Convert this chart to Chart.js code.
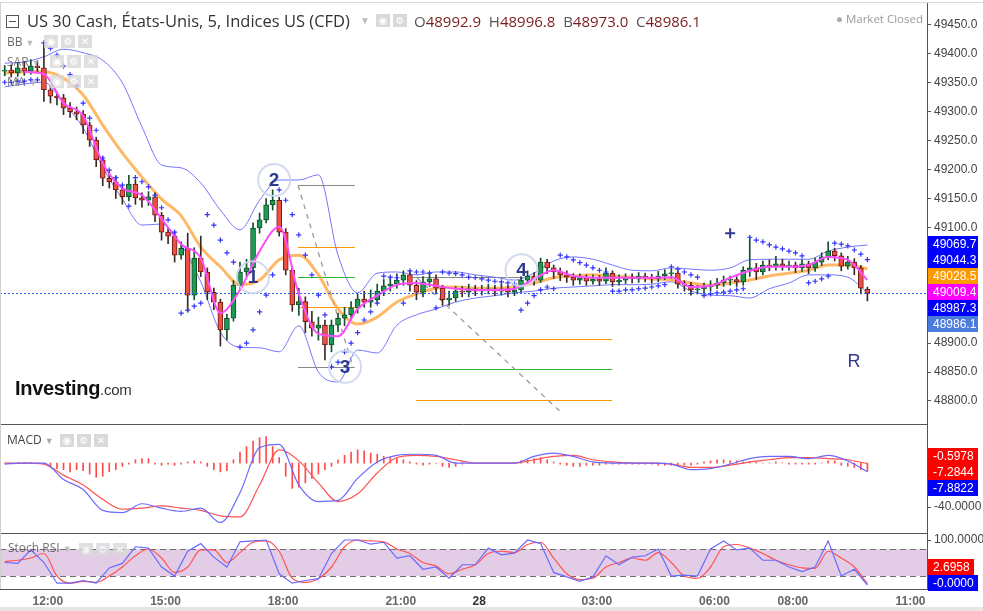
<!DOCTYPE html>
<html><head><meta charset="utf-8">
<script src="https://cdn.jsdelivr.net/npm/chart.js@4.4.1/dist/chart.umd.min.js"></script>
<style>
html,body{margin:0;padding:0;background:#fff;}
#wrap{position:relative;width:983px;height:611px;overflow:hidden;background:#fff;font-family:"Open Sans",sans-serif;}
canvas{position:absolute;left:0;}
.ov{position:absolute;white-space:nowrap;pointer-events:none;}
.ic{position:absolute;width:14px;height:13px;background:#d9d9d9;color:#fff;font:bold 10px "DejaVu Sans";text-align:center;line-height:13px;}
.lbl{position:absolute;font:12px "Open Sans";color:#444;line-height:14px;}
.car{color:#aaa;font-size:9px;margin-left:3px;}
</style></head><body>
<div id="wrap">
<canvas id="main" width="983" height="424" style="top:0"></canvas>
<canvas id="macd" width="983" height="109" style="top:424px"></canvas>
<canvas id="stoch" width="983" height="78" style="top:533px"></canvas>

<div class="ov" style="left:0;top:2px;width:983px;height:1px;background:#d8d8d8"></div>
<div class="ov" style="left:0;top:2px;width:1px;height:587px;background:#d0d0d0"></div>
<div class="ov" style="left:0;top:607px;width:983px;height:4px;background:#e6e6e6"></div>

<!-- header -->
<div class="ov" style="left:6px;top:15px;width:11px;height:11px;border:1px solid #555"></div>
<div class="ov" style="left:9px;top:21px;width:7px;height:1px;background:#555"></div>
<div class="ov" style="left:27px;top:10px;font-size:16.5px;line-height:22px;color:#333">US 30 Cash, États-Unis, 5, Indices US (CFD)</div>
<div class="ov" style="left:360px;top:13px;font-size:10px;color:#bbb">▼</div>
<div class="ic" style="left:376px;top:14px">◉</div>
<div class="ic" style="left:393px;top:14px">⚙</div>
<div class="ov" style="left:414px;top:11px;font-size:15px;line-height:20px;color:#555">O<span style="color:#7a1c1c">48992.9</span>&nbsp; H<span style="color:#7a1c1c">48996.8</span>&nbsp; B<span style="color:#7a1c1c">48973.0</span>&nbsp; C<span style="color:#7a1c1c">48986.1</span></div>
<div class="ov" style="left:836px;top:11px;font-size:11.5px;line-height:16px;color:#999"><span style="color:#aaa">●</span> Market Closed</div>

<!-- indicator legends -->
<div class="lbl" style="left:7px;top:35px;opacity:.8">BB<span class="car">▼</span></div>
<div class="ic" style="left:44px;top:35px;opacity:.85">◉</div><div class="ic" style="left:61px;top:35px;opacity:.85">⚙</div><div class="ic" style="left:78px;top:35px;opacity:.85">✕</div>
<div class="lbl" style="left:7px;top:55px;opacity:.7">SAR<span class="car">▼</span></div>
<div class="ic" style="left:50px;top:55px;opacity:.8">◉</div><div class="ic" style="left:67px;top:55px;opacity:.8">⚙</div><div class="ic" style="left:84px;top:55px;opacity:.8">✕</div>
<div class="lbl" style="left:7px;top:75px;opacity:.7">MA<span class="car">▼</span></div>
<div class="ic" style="left:50px;top:75px;opacity:.8">◉</div><div class="ic" style="left:67px;top:75px;opacity:.8">⚙</div><div class="ic" style="left:84px;top:75px;opacity:.8">✕</div>

<div class="lbl" style="left:7px;top:433px">MACD<span class="car">▼</span></div>
<div class="ic" style="left:60px;top:434px">◉</div><div class="ic" style="left:77px;top:434px">⚙</div><div class="ic" style="left:94px;top:434px">✕</div>
<div class="lbl" style="left:8px;top:541px;opacity:.75">Stoch RSI<span class="car">▼</span></div>
<div class="ic" style="left:79px;top:543px;opacity:.8">◉</div><div class="ic" style="left:96px;top:543px;opacity:.8">⚙</div><div class="ic" style="left:113px;top:543px;opacity:.8">✕</div>

<div class="ov" style="left:15px;top:377px;font:bold 20px 'Liberation Sans';color:#111;letter-spacing:-0.3px">Investing<span style="font:15px 'Liberation Sans';color:#333">.com</span></div>
</div>

<script>
// ---------- DATA ----------
const tickHours  = [12, 15, 18, 21, 23, 26, 29, 31, 34];
const tickLabels = ['12:00','15:00','18:00','21:00','28','03:00','06:00','08:00','11:00'];

const opens = [49370,49372,49367,49376,49370,49379,49376,49338,49327,49324,
 49306,49300,49296,49277,49251,49217,49185,49179,49165,49153,
 49175,49151,49147,49153,49121,49092,49085,49052,49064,48983,
 49047,49023,48988,48971,48923,48943,49000,49023,49030,49099,
 49113,49139,49147,49092,49026,48966,48972,48937,48926,48931,
 48897,48931,48943,48949,48961,48976,48971,48975,48990,48999,
 49002,49009,49018,49000,48988,49006,49011,48995,48975,48978,
 48990,48988,48994,48990,48992,48994,48990,48994,48988,48992,
 49009,49016,49009,49040,49030,49023,49018,49014,49009,49013,
 49007,49011,49007,49021,49006,49009,49014,49011,49016,49013,
 49011,49016,49020,49021,49002,49000,48992,48994,48997,49000,
 49004,49009,49010,49006,49026,49030,49023,49035,49033,49037,
 49033,49035,49030,49037,49030,49040,49049,49059,49051,49033,
 49040,49030,48992.9];
const closes = [49372,49367,49376,49370,49379,49376,49338,49327,49324,49306,
 49300,49296,49277,49251,49217,49185,49179,49165,49153,49175,
 49151,49147,49153,49121,49092,49085,49052,49064,48983,49047,
 49023,48988,48971,48923,48943,49000,49023,49030,49099,49113,
 49139,49147,49092,49026,48966,48972,48937,48926,48931,48897,
 48931,48943,48949,48961,48976,48971,48975,48990,48999,49002,
 49009,49018,49000,48988,49006,49011,48995,48975,48978,48990,
 48988,48994,48990,48992,48994,48990,48994,48988,48992,49009,
 49016,49009,49040,49030,49023,49018,49014,49009,49013,49007,
 49011,49007,49021,49006,49009,49014,49011,49016,49013,49011,
 49016,49020,49021,49002,49000,48992,48994,48997,49000,49004,
 49009,49010,49006,49026,49030,49023,49035,49033,49037,49033,
 49035,49030,49037,49030,49040,49049,49059,49051,49033,49040,
 49030,48995,48986.1];
const highs = [49380,49381,49384,49386,49390,49388,49420,49345,49334,49330,
 49316,49308,49302,49282,49256,49222,49195,49188,49172,49190,
 49182,49160,49162,49160,49126,49100,49092,49075,49090,49065,
 49085,49030,48995,48976,48950,49008,49040,49045,49108,49125,
 49150,49165,49152,49098,49032,48995,48980,48955,48945,48940,
 48940,48952,48962,48972,48985,48990,48992,49002,49010,49015,
 49020,49025,49024,49008,49015,49022,49018,49000,48990,48998,
 48998,49002,49000,49000,49002,49000,49003,49000,49000,49015,
 49025,49022,49047,49045,49035,49030,49025,49020,49020,49018,
 49018,49017,49030,49025,49018,49020,49020,49022,49021,49019,
 49024,49027,49028,49025,49008,49005,49000,49004,49008,49012,
 49016,49016,49015,49032,49083,49038,49042,49044,49050,49045,
 49042,49040,49044,49042,49047,49056,49075,49064,49056,49050,
 49046,49034,48996.8];
const lows = [49362,49360,49361,49363,49365,49368,49318,49315,49312,49295,
 49290,49286,49262,49240,49205,49172,49168,49150,49140,49146,
 49140,49135,49138,49110,49078,49072,49040,49045,48955,48975,
 49015,48975,48958,48895,48905,48938,48995,49015,49025,49090,
 49108,49130,49085,49018,48955,48948,48918,48912,48905,48871,
 48885,48920,48930,48940,48952,48962,48962,48968,48982,48990,
 48995,49000,48990,48975,48980,48998,48985,48965,48965,48972,
 48980,48980,48982,48983,48985,48982,48983,48980,48982,48988,
 49003,49000,49005,49020,49012,49008,49005,49000,49002,49000,
 49002,49000,49003,48998,49000,49003,49004,49005,49006,49004,
 49006,49010,49012,48995,48990,48983,48985,48987,48990,48994,
 48998,49000,48998,49000,49015,49010,49018,49025,49026,49026,
 49026,49022,49024,49020,49024,49034,49044,49042,49025,49028,
 49018,48985,48973];
const sar = [49351,49351,49353,49353,49355,49355,49419,49410,49398,49379,
 49364,49345,49315,49289,49268,49220,49199,49186,49173,49137,
 49186,49179,49170,49156,49134,49113,49092,48952,48957,48964,
 48969,49122,49104,49078,49056,49040,48893,48900,48923,48954,
 48983,49018,49165,49147,49122,49087,49052,49018,48983,48949,
 48859,48867,48885,48900,48918,48940,48954,48969,49016,49014,
 49013,48969,49025,49023,49023,49021,48961,49023,49021,49020,
 49018,49014,49013,49011,49009,49007,49006,49004,49002,48957,
 48969,48982,48992,48997,48994,49052,49049,49044,49039,49035,
 49030,49026,49023,48990,48990,48992,48992,48994,48995,48997,
 48999,49001,49032,49028,49023,49018,49014,48982,48985,48987,
 48988,48990,48992,48994,49083,49078,49075,49070,49066,49063,
 49059,49056,49051,49004,49007,49011,49016,49073,49071,49068,
 49061,49054,49044.3];
// lines sampled every 3rd bar
const maFast = [null,49369,49365,49315,49293,49211,49168,49156,49115,49071,
 49047,48952,48992,49059,49101,48985,48916,48912,48959,48982,
 49001,49004,48999,48994,48992,48992,48994,49011,49026,49016,
 49013,49013,49013,49013,49014,48997,48999,49013,49025,49032,
 49032,49035,49049,49044,49009.4];
const bbMid = [49367,49369,49369,49358,49329,49277,49229,49187,49149,49120,
 49066,49032,49001,49009,49044,49052,49018,48959,48933,48945,
 48971,48985,48995,48997,48995,48995,48997,49004,49013,49016,
 49018,49016,49014,49011,49009,49004,49000,49004,49009,49016,
 49021,49026,49035,49035,49028.5];
const bbUpper = [49384,49386,49395,49408,49402,49389,49350,49274,49208,49203,
 49177,49130,49096,49147,49182,49182,49191,49052,48987,49021,
 49023,49018,49023,49023,49018,49014,49009,49021,49042,49049,
 49045,49035,49026,49025,49030,49028,49026,49030,49044,49045,
 49045,49045,49059,49066,49069.7];
const bbLower = [49343,49348,49351,49315,49272,49204,49149,49104,49106,49070,
 49006,48919,48893,48892,48885,48930,48850,48833,48888,48883,
 48931,48949,48959,48971,48978,48982,48987,48990,48995,48997,
 48999,49001,49001,49002,49006,48990,48983,48982,48978,48994,
 49004,49018,49018,49014,48987.3];
const macdLine = [-1,0,0,-15,-24,-43,-45,-37,-41,-44,
 -41,-54,-27,14,17,-20,-35,-34,-14,1,
 7,8,7,0,0,0,0,6,9,6,
 1,0,0,0,-1,-6,-5,-1,4,6,
 6,4,7,2,-7.8822];
const macdSignal = [0,0,-1,-11,-20,-33,-42,-41,-39,-41,
 -43,-48,-49,-20,12,2,-18,-35,-28,-9,
 5,7,6,3,0,0,0,3,6,7,
 3,1,0,0,-1,-4,-4,-2,1,3,
 5,5,4,3,-0.5978];
const macdHist = [0,0,0.5,0.5,0.5,0,0,-3,-5,-6,
 -8,-6,-7,-10,-13,-12,-8,-6,-3,-1,
 3,4,4,-1,-2,-1,-2,-1,1,2,
 1,-3,-6,-8,-7,3,10,15,20,23,
 24,15,5,-12,-23,-22,-18,-14,-10,-6,
 -3,3,7,10,12,11,9,8,6,5,
 4,3,1,-1,-2,-1,0,-3,-4,-3,
 -1,0,0,0,0,0,0,0,0,2,
 3,4,5,3,1,-1,-2,-3,-3,-2,
 -2,-2,-1,-1,-1,-1,-1,-1,-1,-1,
 -2,-2,-2,-2,-2,-2,-1,1,2,3,
 3,2,2,1,1,1,0,0,1,0,
 -1,-1,-1,-1,-1,0,2,2,-2,-3,
 -4,-6,-7.2844];
// stoch sampled every 2nd bar
const stochK = [50,48,78,50,4,4,10,4,38,48,
 85,82,40,20,75,92,62,40,96,98,
 100,25,4,10,14,70,100,100,91,95,
 60,65,35,40,15,45,45,82,67,71,
 100,92,28,18,8,18,65,45,62,65,
 80,20,22,20,80,98,78,82,55,55,
 40,30,40,98,20,35,-0.00001];
const stochD = [52,55,60,70,20,4,8,6,20,40,
 65,80,60,28,40,78,78,50,72,95,
 98,75,15,6,14,40,85,100,98,96,
 80,70,50,42,25,35,45,70,75,72,
 90,95,60,25,12,15,40,50,60,55,
 72,50,20,15,40,85,90,82,70,55,
 45,38,37,75,60,40,2.6958];

// drawings (time in session hours, price)
const waveMarks = [{n:'1',h:17.23,p:49014},{n:'2',h:17.77,p:49182},{n:'3',h:19.58,p:48859},{n:'4',h:24.08,p:49026}];
const fibA = {h0:18.38, h1:19.83, levels:[49173,49066,49014,48962,48859]};
const fibAColors = ['#8a8a8a','#ff9800','#2db82d','#ff9800','#8a8a8a'];
const fibBTop = {h0:21.31, h1:24.12, p:49014};
const fibB = {h0:21.39, h1:26.39, levels:[48907,48855,48802]};
const fibBColors = ['#ff9800','#2db82d','#ff9800'];
const trendLines = [{h0:18.38,p0:49173,h1:19.78,p1:48859},{h0:21.41,p0:49013,h1:25.11,p1:48779}];
const plusMark = {h:29.40, p:49090};
const rMark = {h:32.56, p:48867};

// ---------- BUILD ----------
const XMIN = 10.78, XMAX = 34.42;
const barHours = closes.map((_, i) => 10.9 + i / 6);
const lineHours = bbMid.map((_, k) => barHours[k * 3]);
const stochHours = stochK.map((_, k) => barHours[k * 2]);
const pts = (arr, hrs) => arr.map((v, k) => ({x: hrs[k], y: v}));

Chart.defaults.font.family = '"Liberation Sans", Arial, sans-serif';
Chart.defaults.font.size = 12;
Chart.defaults.animation = false;

const up = closes.map((c, i) => c >= opens[i]);
const bodyFill = up.map(u => u ? '#1f9a52' : '#ef5046');
const bodyBorder = up.map(u => u ? '#0f4d2a' : '#6b1a14');
const wickCol = up.map(u => u ? '#14502c' : '#3b2a20');

const xHidden = {type:'linear', min:XMIN, max:XMAX, offset:false, display:false};
const yRight = (min, max, extra) => Object.assign({
  type:'linear', position:'right', min, max,
  afterFit: s => { s.width = 56; s.paddingTop = 0; s.paddingBottom = 0; },
  grid: {display:true, drawOnChartArea:false, drawTicks:true, tickLength:4, color:'#555'},
  border: {display:true, color:'#555'},
  ticks: {display:false, includeBounds:false}
}, extra);

// tick labels drawn from the scale's own ticks
function drawYLabels(chart, fmt) {
  const {ctx, chartArea} = chart, ys = chart.scales.y;
  ctx.save();
  ctx.font = '12px "Liberation Sans"'; ctx.fillStyle = '#444';
  ctx.textBaseline = 'middle'; ctx.textAlign = 'left';
  ys.ticks.forEach(t => ctx.fillText(fmt(t.value), chartArea.right + 7, ys.getPixelForValue(t.value)));
  ctx.restore();
}
function drawBoxes(chart, items, dir, offset) {
  const {ctx, chartArea} = chart, ys = chart.scales.y, H = 16;
  let prev = null;
  ctx.save();
  ctx.font = '12px "Liberation Sans"';
  ctx.textBaseline = 'middle'; ctx.textAlign = 'left';
  items.forEach(it => {
    let y = ys.getPixelForValue(it.v);
    if (prev === null) y += offset;
    else y = dir > 0 ? Math.max(y, prev + H) : Math.min(y, prev - H);
    prev = y;
    ctx.fillStyle = it.c;
    ctx.fillRect(chartArea.right + 1, Math.round(y - H / 2), it.w || 50, H);
    ctx.fillStyle = '#fff';
    ctx.fillText(it.t, chartArea.right + 6, y + 0.5);
  });
  ctx.restore();
}
const last = a => a[a.length - 1];

// ---------- MAIN ----------
new Chart(document.getElementById('main'), {
  type: 'bar',
  data: { datasets: [
    {type:'line', label:'SAR', data: pts(sar, barHours), showLine:false, pointStyle:'cross',
     pointRadius:2.6, pointBorderColor:'#3434ff', pointBorderWidth:1.2, order:0},
    {type:'line', label:'MA', data: pts(maFast, lineHours), borderColor:'#ff4cff', borderWidth:2,
     pointRadius:0, cubicInterpolationMode:'monotone', spanGaps:true, order:1},
    {type:'bar', label:'body', data: barHours.map((x, i) => ({x, y:[opens[i], closes[i]]})),
     backgroundColor: bodyFill, borderColor: bodyBorder, borderWidth:1, borderSkipped:false,
     barThickness:5, minBarLength:1, grouped:false, order:2},
    {type:'bar', label:'wick', data: barHours.map((x, i) => ({x, y:[lows[i], highs[i]]})),
     backgroundColor: wickCol, barThickness:1, grouped:false, order:3},
    {type:'line', label:'BBmid', data: pts(bbMid, lineHours), borderColor:'rgba(255,160,50,0.75)', borderWidth:3,
     pointRadius:0, cubicInterpolationMode:'monotone', order:4},
    {type:'line', label:'BBup', data: pts(bbUpper, lineHours), borderColor:'#7474ff', borderWidth:1,
     pointRadius:0, cubicInterpolationMode:'monotone', order:5},
    {type:'line', label:'BBlo', data: pts(bbLower, lineHours), borderColor:'#7474ff', borderWidth:1,
     pointRadius:0, cubicInterpolationMode:'monotone', order:5}
  ]},
  options: {
    responsive:false, animation:false,
    layout:{autoPadding:false, padding:{top:2, left:0, right:0, bottom:0}},
    plugins:{legend:{display:false}, tooltip:{enabled:false}},
    scales:{
      x: xHidden,
      y: yRight(48760.2, 49489.7, {ticks:{display:false, includeBounds:false, stepSize:50}})
    }
  },
  plugins:[{
    id:'mainOverlay',
    beforeDatasetsDraw(chart){
      const {ctx} = chart, X = chart.scales.x, Y = chart.scales.y;
      ctx.save(); ctx.lineWidth = 1;
      fibA.levels.forEach((p, k) => {
        ctx.strokeStyle = fibAColors[k]; ctx.beginPath();
        const y = Math.round(Y.getPixelForValue(p)) + 0.5;
        ctx.moveTo(X.getPixelForValue(fibA.h0), y); ctx.lineTo(X.getPixelForValue(fibA.h1), y); ctx.stroke();
      });
      ctx.strokeStyle = '#8a8a8a'; ctx.beginPath();
      const yt = Math.round(Y.getPixelForValue(fibBTop.p)) + 0.5;
      ctx.moveTo(X.getPixelForValue(fibBTop.h0), yt); ctx.lineTo(X.getPixelForValue(fibBTop.h1), yt); ctx.stroke();
      fibB.levels.forEach((p, k) => {
        ctx.strokeStyle = fibBColors[k]; ctx.beginPath();
        const y = Math.round(Y.getPixelForValue(p)) + 0.5;
        ctx.moveTo(X.getPixelForValue(fibB.h0), y); ctx.lineTo(X.getPixelForValue(fibB.h1), y); ctx.stroke();
      });
      ctx.setLineDash([5,5]); ctx.strokeStyle = '#9a9a9a'; ctx.lineWidth = 1.3;
      trendLines.forEach(t => {
        ctx.beginPath();
        ctx.moveTo(X.getPixelForValue(t.h0), Y.getPixelForValue(t.p0));
        ctx.lineTo(X.getPixelForValue(t.h1), Y.getPixelForValue(t.p1)); ctx.stroke();
      });
      ctx.restore();
    },
    afterDatasetsDraw(chart){
      const {ctx, chartArea:a} = chart, X = chart.scales.x, Y = chart.scales.y;
      ctx.save();
      const yp = Math.round(Y.getPixelForValue(last(closes))) + 0.5;
      ctx.strokeStyle = '#2a5cf0'; ctx.lineWidth = 1; ctx.setLineDash([2,2]);
      ctx.beginPath(); ctx.moveTo(a.left, yp); ctx.lineTo(a.right, yp); ctx.stroke();
      ctx.setLineDash([]);
      waveMarks.forEach(m => {
        const x = X.getPixelForValue(m.h), y = Y.getPixelForValue(m.p);
        ctx.strokeStyle = 'rgba(205,214,236,0.9)'; ctx.lineWidth = 2;
        ctx.beginPath(); ctx.arc(x, y, 16, 0, Math.PI * 2); ctx.stroke();
        ctx.fillStyle = '#2e3a8c'; ctx.font = 'bold 19px "Liberation Sans"';
        ctx.textAlign = 'center'; ctx.textBaseline = 'middle';
        ctx.fillText(m.n, x, y + 1);
      });
      const px = X.getPixelForValue(plusMark.h), py = Y.getPixelForValue(plusMark.p);
      ctx.strokeStyle = '#2e3a8c'; ctx.lineWidth = 2;
      ctx.beginPath(); ctx.moveTo(px - 5, py); ctx.lineTo(px + 5, py); ctx.moveTo(px, py - 5); ctx.lineTo(px, py + 5); ctx.stroke();
      ctx.fillStyle = '#2e3a8c'; ctx.font = '18px "Liberation Sans"';
      ctx.textAlign = 'center'; ctx.textBaseline = 'middle';
      ctx.fillText('R', X.getPixelForValue(rMark.h), Y.getPixelForValue(rMark.p));
      ctx.restore();
    },
    afterDraw(chart){
      drawYLabels(chart, v => Number(v).toFixed(1));
      const items = [
        {v:last(bbUpper), c:'#0000ff'}, {v:last(sar), c:'#0000ff'}, {v:last(bbMid), c:'#ff9900'},
        {v:last(maFast), c:'#ff00ff'}, {v:last(bbLower), c:'#0000ff'}, {v:last(closes), c:'#4b7bdc'}
      ].map(o => Object.assign(o, {t:o.v.toFixed(1)}));
      drawBoxes(chart, items, 1, -1);
    }
  }]
});

// ---------- MACD ----------
new Chart(document.getElementById('macd'), {
  type:'bar',
  data:{ datasets:[
    {type:'line', data: pts(macdLine, lineHours), borderColor:'#6a6aff', borderWidth:1.2, pointRadius:0, cubicInterpolationMode:'monotone', order:0},
    {type:'line', data: pts(macdSignal, lineHours), borderColor:'#ff5252', borderWidth:1.2, pointRadius:0, cubicInterpolationMode:'monotone', order:1},
    {type:'bar', data: barHours.map((x, i) => ({x, y: macdHist[i]})), backgroundColor:'#ff4a4a', barThickness:1, grouped:false, order:2}
  ]},
  options:{
    responsive:false, animation:false,
    layout:{autoPadding:false, padding:0},
    plugins:{legend:{display:false}, tooltip:{enabled:false}},
    scales:{
      x: xHidden,
      y: Object.assign(yRight(-63.6, 35.5), {
        afterBuildTicks: s => { s.ticks = [{value:-40}]; }
      })
    }
  },
  plugins:[{
    id:'macdBoxes',
    afterDraw(chart){
      const {ctx, chartArea:a} = chart;
      ctx.save(); ctx.strokeStyle = '#555'; ctx.lineWidth = 1;
      ctx.beginPath(); ctx.moveTo(0, 0.5); ctx.lineTo(a.right, 0.5); ctx.stroke(); ctx.restore();
      drawYLabels(chart, v => Number(v).toFixed(4));
      drawBoxes(chart, [
        {v:last(macdSignal), c:'#ff0000', t:last(macdSignal).toFixed(4)},
        {v:last(macdHist), c:'#ff0000', t:last(macdHist).toFixed(4)},
        {v:last(macdLine), c:'#0000ff', t:last(macdLine).toFixed(4)}
      ], 1, -8);
    }
  }]
});

// ---------- STOCH RSI ----------
new Chart(document.getElementById('stoch'), {
  type:'line',
  data:{ datasets:[
    {data: pts(stochK, stochHours), borderColor:'#6a6aff', borderWidth:1.2, pointRadius:0, tension:0},
    {data: pts(stochD, stochHours), borderColor:'#ff5252', borderWidth:1.2, pointRadius:0, cubicInterpolationMode:'monotone'}
  ]},
  options:{
    responsive:false, animation:false,
    layout:{autoPadding:false, padding:0},
    plugins:{legend:{display:false}, tooltip:{enabled:false}},
    scales:{
      x:{type:'linear', min:XMIN, max:XMAX, offset:false, position:'bottom',
         afterBuildTicks: s => { s.ticks = tickHours.map(v => ({value:v})); },
         afterFit: s => { s.height = 22; s.paddingLeft = 0; s.paddingRight = 0; },
         grid:{display:false, drawTicks:false},
         border:{display:true, color:'#555'},
         ticks:{autoSkip:false, maxRotation:0, padding:5,
           color: c => (tickLabels[c.index] === '28' ? '#333' : '#666'),
           font:{weight:'bold', size:12},
           callback: (v, i) => tickLabels[i]}},
      y: Object.assign(yRight(-8.9, 115.6), {
        afterBuildTicks: s => { s.ticks = [{value:100}]; }
      })
    }
  },
  plugins:[{
    id:'stochBand',
    beforeDatasetsDraw(chart){
      const {ctx, chartArea:a} = chart, Y = chart.scales.y;
      const y80 = Y.getPixelForValue(80), y20 = Y.getPixelForValue(20);
      ctx.save();
      ctx.fillStyle = '#e3cde6'; ctx.fillRect(a.left, y80, a.right - a.left, y20 - y80);
      ctx.strokeStyle = '#6e6e6e'; ctx.lineWidth = 1; ctx.setLineDash([6,4]);
      [y80, y20].forEach(y => { ctx.beginPath(); ctx.moveTo(a.left, Math.round(y)+0.5); ctx.lineTo(a.right, Math.round(y)+0.5); ctx.stroke(); });
      ctx.restore();
    },
    afterDraw(chart){
      const {ctx, chartArea:a} = chart;
      ctx.save(); ctx.strokeStyle = '#555'; ctx.lineWidth = 1;
      ctx.beginPath(); ctx.moveTo(0, 0.5); ctx.lineTo(a.right, 0.5); ctx.stroke(); ctx.restore();
      drawYLabels(chart, v => Number(v).toFixed(4));
      drawBoxes(chart, [
        {v:last(stochK), c:'#0000ff', t:last(stochK).toFixed(4)},
        {v:last(stochD), c:'#ff0000', t:last(stochD).toFixed(4), w:46}
      ], -1, -2);
    }
  }]
});
</script>
</body></html>
